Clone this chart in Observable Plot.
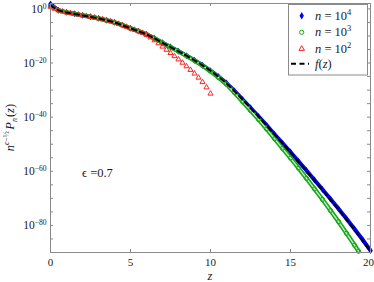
<!DOCTYPE html>
<html><head><meta charset="utf-8">
<script src="https://cdn.jsdelivr.net/npm/d3@7"></script>
<script src="https://cdn.jsdelivr.net/npm/@observablehq/plot@0.6"></script>
<style>
body{margin:0;background:#fff}
#chart{width:374px;height:282px}
svg, svg text{font-family:"Liberation Serif",serif}
</style></head><body><div id="chart"></div>
<script>
// z positions (half-unit sampling)
const zHalf = [0,0.5,1,1.5,2,2.5,3,3.5,4,4.5,5,5.5,6,6.5,7,7.5,8,8.5,9,9.5,10,10.5,11,11.5,12,12.5,13,13.5,14,14.5,15,15.5,16,16.5,17,17.5,18,18.5,19,19.5,20];
// log10 values
const logF  = [1.3,-0.55,-1.29,-1.84,-2.40,-2.93,-3.50,-4.20,-4.98,-6.03,-7.19,-8.25,-9.40,-10.90,-12.53,-14.10,-15.67,-17.30,-18.99,-20.85,-22.86,-25.05,-27.47,-30.40,-33.55,-36.65,-39.82,-43.10,-46.45,-49.75,-53.09,-56.50,-59.91,-63.40,-66.91,-70.50,-74.10,-77.85,-81.66,-85.55,-89.59];
const logN4 = [1.8,-0.5,-1.27,-1.82,-2.38,-2.91,-3.48,-4.18,-4.96,-6.0,-7.16,-8.22,-9.37,-10.87,-12.5,-14.07,-15.64,-17.27,-18.95,-20.8,-22.8,-25.0,-27.4,-30.3,-33.45,-36.55,-39.7,-42.95,-46.3,-49.6,-52.9,-56.3,-59.7,-63.2,-66.7,-70.25,-73.85,-77.55,-81.3,-85.2,-89.3];
const zN3   = [0,0.5,1,1.5,2,2.5,3,3.5,4,4.5,5,5.5,6,6.5,7,7.5,8,8.5,9,9.5,10,10.5,11,11.5,12,12.5,13,13.5,14,14.5,15,15.5,16,16.5,17,17.5,18,18.5,19,19.25];
const logN3 = [1.0,-0.55,-1.29,-1.84,-2.40,-2.93,-3.50,-4.20,-4.98,-6.03,-7.19,-8.25,-9.40,-10.90,-12.53,-14.10,-15.70,-17.35,-19.09,-21.00,-23.06,-25.35,-27.87,-30.95,-34.25,-37.50,-40.82,-44.35,-47.95,-51.50,-55.09,-58.85,-62.61,-66.50,-70.41,-74.50,-78.60,-82.90,-87.26,-89.5];
const zN2   = [0,0.25,0.5,0.75,1,1.25,1.5,1.75,2,2.25,2.5,2.75,3,3.25,3.5,3.75,4,4.25,4.5,4.75,5,5.25,5.5,5.75,6,6.25,6.5,6.75,7,7.25,7.5,7.75,8,8.25,8.5,8.75,9,9.25,9.5,9.75,10];
const logN2 = [0.8,0.1,-0.55,-0.95,-1.29,-1.57,-1.84,-2.12,-2.40,-2.66,-2.93,-3.21,-3.50,-3.84,-4.20,-4.58,-4.98,-5.48,-6.03,-6.60,-7.19,-7.70,-8.25,-8.82,-9.6,-10.53,-11.6,-12.7,-13.93,-15.1,-16.3,-17.48,-18.67,-19.88,-21.2,-22.54,-23.89,-25.4,-27.05,-29.0,-31.3];
// ticks
const xTicks = [0,5,10,15,20];
const yMajor = [-80,-60,-40,-20,0];
const yMinor = [-85,-80,-75,-70,-65,-60,-55,-50,-45,-40,-35,-30,-25,-20,-15,-10,-5,0];
const legendLabels = [["n"," = 10","4"],["n"," = 10","3"],["n"," = 10","2"],["f(z)"]];
const epsText = "ϵ =0.7";

const FONT = '"Liberation Serif",serif';
const BLUE="#0000ff", GREEN="#16a816", RED="#ff2020", AX="#8a8a8a", TXT="#1a1a1a";
const rowsF  = zHalf.map((z,i)=>({z, v: logF[i]}));
const rowsN4 = zHalf.map((z,i)=>({z, v: logN4[i]}));
const rowsN3 = zN3.map((z,i)=>({z, v: logN3[i]}));
const rowsN2 = zN2.map((z,i)=>({z, v: logN2[i]}));

const mT=3, mB=30, mL=50, mR=4, W=374, H=282;
const ph = H-mT-mB, pw = W-mL-mR, tl = 3;

const svg = Plot.plot({
  width: W, height: H,
  marginLeft: mL, marginRight: mR, marginTop: mT, marginBottom: mB,
  style: {fontFamily: FONT, fontSize: "11px", color: TXT, background: "white"},
  x: {domain: [0,20], label: null},
  y: {domain: [-90,2], label: null},
  marks: [
    Plot.line(rowsN4, {x:"z", y:"v", stroke: BLUE, strokeWidth: 4}),
    Plot.dot(rowsN4, {x:"z", y:"v", symbol:"diamond", fill: BLUE, r: 2.1}),
    Plot.line(rowsN3, {x:"z", y:"v", stroke: GREEN, strokeWidth: 4.4}),
    Plot.line(rowsN3, {x:"z", y:"v", stroke: "#c9ebc9", strokeWidth: 1.3}),
    Plot.dot(rowsN3, {x:"z", y:"v", symbol:"circle", stroke: GREEN, fill: "none", r: 2.1, strokeWidth: 1}),
    Plot.dot(rowsN2, {x:"z", y:"v", symbol:"triangle", stroke: RED, fill: "none", r: 1.9, strokeWidth: 1}),
    Plot.line(rowsF, {x:"z", y:"v", stroke: "black", strokeWidth: 2, strokeDasharray: "5,3.5"}),
    Plot.frame({stroke: AX}),
    Plot.tickX(xTicks, {x: d=>d, insetTop: ph-tl, stroke: AX}),
    Plot.tickX(xTicks, {x: d=>d, insetBottom: ph-tl, stroke: AX}),
    Plot.tickY(yMinor, {y: d=>d, insetRight: pw-tl, stroke: AX}),
    Plot.tickY(yMinor, {y: d=>d, insetLeft: pw-tl, stroke: AX}),
    Plot.axisX(xTicks, {tickSize: 0, tickPadding: 6, label: null, fontFamily: FONT, fontSize: 11}),
    Plot.axisY(yMajor, {tickSize: 0, tickPadding: 4, tickFormat: d => "10^" + d, label: null, fontFamily: FONT, fontSize: 11.5})
  ]
});
document.getElementById("chart").appendChild(svg);

const s = d3.select(svg);
// superscript tick labels
s.selectAll('g[aria-label="y-axis tick label"] text').each(function(){
  const t = this.textContent.split("^");
  const el = d3.select(this); el.text(null);
  el.append("tspan").text(t[0]);
  el.append("tspan").attr("font-size","0.66em").attr("dy","-0.5em").text(t[1].replace("-","−"));
});
// keep the last x label inside the window
const xl = s.selectAll('g[aria-label="x-axis tick label"] text').nodes();
if (xl.length) d3.select(xl[xl.length-1]).attr("dx", -2);
function txt(sel){ return sel.attr("font-family", FONT).attr("fill", TXT); }
// y label
const yl = txt(s.append("text")).attr("transform",`translate(14,${mT+ph/2}) rotate(-90)`)
  .attr("text-anchor","middle").attr("font-size",12.5);
yl.append("tspan").attr("font-style","italic").text("n");
yl.append("tspan").attr("font-size",8).attr("dy",-5).attr("font-style","italic").text("ϵ");
yl.append("tspan").attr("font-size",8).text("−½");
yl.append("tspan").attr("dy",5).attr("dx",1.5).attr("font-style","italic").text("P");
yl.append("tspan").attr("font-size",8).attr("dy",2.5).attr("font-style","italic").text("n");
yl.append("tspan").attr("dy",-2.5).attr("dx",1).text("(");
yl.append("tspan").attr("font-style","italic").text("z");
yl.append("tspan").text(")");
// x label
txt(s.append("text")).attr("x", mL+pw/2).attr("y", 280).attr("text-anchor","middle")
  .attr("font-size",12.5).attr("font-style","italic").text("z");
// epsilon annotation
txt(s.append("text")).attr("x",82).attr("y",177).attr("text-anchor","start").attr("font-size",12.5).text(epsText);
// legend
const lg = s.append("g");
lg.append("rect").attr("x",288.5).attr("y",4.5).attr("width",79).attr("height",70.5)
  .attr("fill","white").attr("stroke",AX);
const rowY = [15.7,32.3,48.8,63.8];
lg.append("path").attr("d", d3.symbol(d3.symbolDiamond, 16)()).attr("transform",`translate(301.7,${rowY[0]})`).attr("fill",BLUE);
lg.append("circle").attr("cx",301.7).attr("cy",rowY[1]).attr("r",2.1).attr("fill","none").attr("stroke",GREEN);
lg.append("path").attr("d", d3.symbol(d3.symbolTriangle, 13)()).attr("transform",`translate(301.7,${rowY[2]})`).attr("fill","none").attr("stroke",RED);
lg.append("line").attr("x1",291).attr("x2",309).attr("y1",rowY[3]).attr("y2",rowY[3]).attr("stroke","black").attr("stroke-width",2).attr("stroke-dasharray","5,3.5");
legendLabels.forEach((lab,i)=>{
  const t = txt(lg.append("text")).attr("x",315).attr("y",rowY[i]+4).attr("text-anchor","start").attr("font-size",12.5);
  if (lab.length === 3) {
    t.append("tspan").attr("font-style","italic").text(lab[0]);
    t.append("tspan").text(lab[1]);
    t.append("tspan").attr("font-size",8.5).attr("dy",-5).text(lab[2]);
  } else {
    t.append("tspan").attr("font-style","italic").text("f");
    t.append("tspan").text("(");
    t.append("tspan").attr("font-style","italic").text("z");
    t.append("tspan").text(")");
  }
});
</script></body></html>
